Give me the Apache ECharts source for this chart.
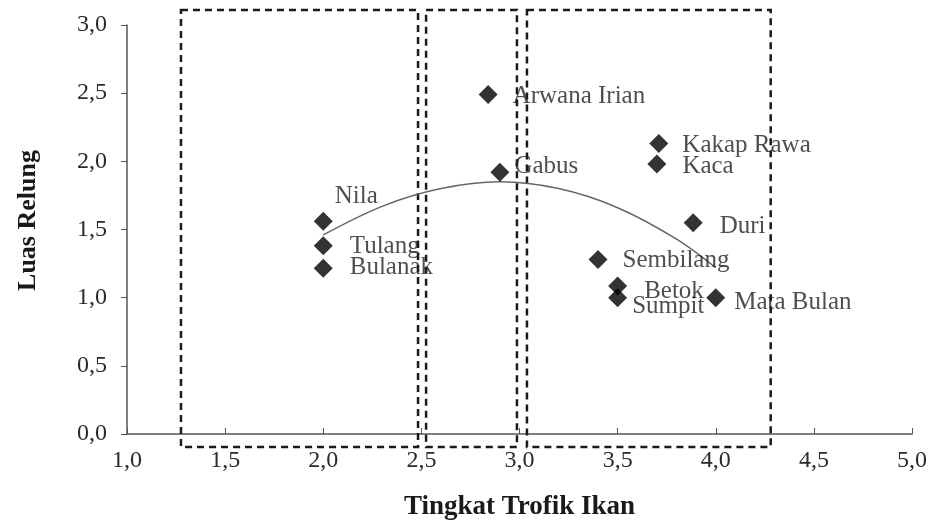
<!DOCTYPE html>
<html>
<head>
<meta charset="utf-8">
<script src="https://cdn.jsdelivr.net/npm/echarts@6/dist/echarts.min.js"></script>
<style>
  html, body { margin: 0; padding: 0; background: #fff; }
  #chart { width: 934px; height: 526px; }
</style>
</head>
<body>
<div id="chart"></div>
<script>
// fish species: trophic level (x) vs niche breadth (y)
const fishNames = ['Nila', 'Tulang', 'Bulanak', 'Arwana Irian', 'Gabus', 'Kakap Rawa', 'Kaca', 'Duri', 'Sembilang', 'Betok', 'Sumpit', 'Mata Bulan'];
const trophicLevel = [2.0, 2.0, 2.0, 2.84, 2.9, 3.71, 3.7, 3.885, 3.4, 3.5, 3.5, 4.0];
const nicheBreadth = [1.56, 1.38, 1.215, 2.49, 1.92, 2.13, 1.98, 1.55, 1.28, 1.085, 1.0, 1.0];

// trend curve
const curveX = [2.0, 2.3, 2.6, 2.9, 3.2, 3.5, 3.8, 4.0];
const curveY = [1.46, 1.67, 1.80, 1.85, 1.80, 1.66, 1.43, 1.22];

// dashed grouping boxes: [xFrom, xTo, yFrom, yTo]
const groupBoxes = [
  [1.275, 2.483, -0.095, 3.11],
  [2.524, 2.987, -0.095, 3.11],
  [3.038, 4.28, -0.095, 3.11]
];

// label nudges [dx, dy] so names sit as in the figure
const labelNudge = {
  'Nila': [-3, -25], 'Tulang': [12, 1], 'Bulanak': [12, -1], 'Arwana Irian': [10, 2],
  'Gabus': [0, -6], 'Kakap Rawa': [9, 2], 'Kaca': [11, 2], 'Duri': [12, 4],
  'Sembilang': [10, 1], 'Betok': [12, 5], 'Sumpit': [0, 9], 'Mata Bulan': [4, 5]
};

const serif = '"Liberation Serif", "DejaVu Serif", serif';

const scatterData = fishNames.map((name, i) => ({
  name: name,
  value: [trophicLevel[i], nicheBreadth[i]],
  label: { offset: labelNudge[name] }
}));

const chart = echarts.init(document.getElementById('chart'));

chart.setOption({
  backgroundColor: '#fff',
  animation: false,
  grid: { left: 127, right: 22, top: 25, bottom: 91 },
  xAxis: {
    type: 'value', min: 1, max: 5, interval: 0.5,
    name: 'Tingkat Trofik Ikan', nameLocation: 'middle', nameGap: 60,
    nameTextStyle: { fontFamily: serif, fontWeight: 'bold', fontSize: 27, color: '#1a1a1a' },
    axisLine: { lineStyle: { color: '#555', width: 1.5 } },
    axisTick: { inside: true, length: 6, lineStyle: { color: '#555' } },
    axisLabel: { fontFamily: serif, fontSize: 24, color: '#2a2a2a', margin: 15,
      formatter: v => v.toFixed(1).replace('.', ',') },
    splitLine: { show: false }
  },
  yAxis: {
    type: 'value', min: 0, max: 3, interval: 0.5,
    name: 'Luas Relung', nameLocation: 'middle', nameGap: 86, nameRotate: 90,
    nameTextStyle: { fontFamily: serif, fontWeight: 'bold', fontSize: 26, color: '#1a1a1a',
      padding: [0, 0, 0, 18] },
    axisLine: { show: true, lineStyle: { color: '#555', width: 1.5 } },
    axisTick: { show: true, length: 6, lineStyle: { color: '#555' } },
    axisLabel: { fontFamily: serif, fontSize: 24, color: '#2a2a2a', margin: 20,
      formatter: v => v.toFixed(1).replace('.', ',') },
    splitLine: { show: false }
  },
  series: [
    {
      type: 'custom',
      silent: true,
      clip: false,
      z: 1,
      encode: { x: [0, 1], y: [2, 3] },
      data: groupBoxes,
      renderItem: (params, api) => {
        const p1 = api.coord([api.value(0), api.value(3)]);
        const p2 = api.coord([api.value(1), api.value(2)]);
        return {
          type: 'rect',
          shape: { x: p1[0], y: p1[1], width: p2[0] - p1[0], height: p2[1] - p1[1] },
          style: { fill: 'none', stroke: '#1a1a1a', lineWidth: 2.5, lineDash: [7, 5] }
        };
      }
    },
    {
      type: 'line',
      data: curveX.map((x, i) => [x, curveY[i]]),
      smooth: 0.35,
      showSymbol: false,
      silent: true,
      z: 2,
      lineStyle: { color: '#666', width: 1.5 }
    },
    {
      type: 'scatter',
      symbol: 'diamond',
      symbolSize: 19,
      z: 3,
      itemStyle: { color: '#000' },
      label: {
        show: true, position: 'right', distance: 5,
        formatter: '{b}', fontFamily: serif, fontSize: 25, color: '#222'
      },
      data: scatterData
    }
  ]
});
</script>
</body>
</html>
